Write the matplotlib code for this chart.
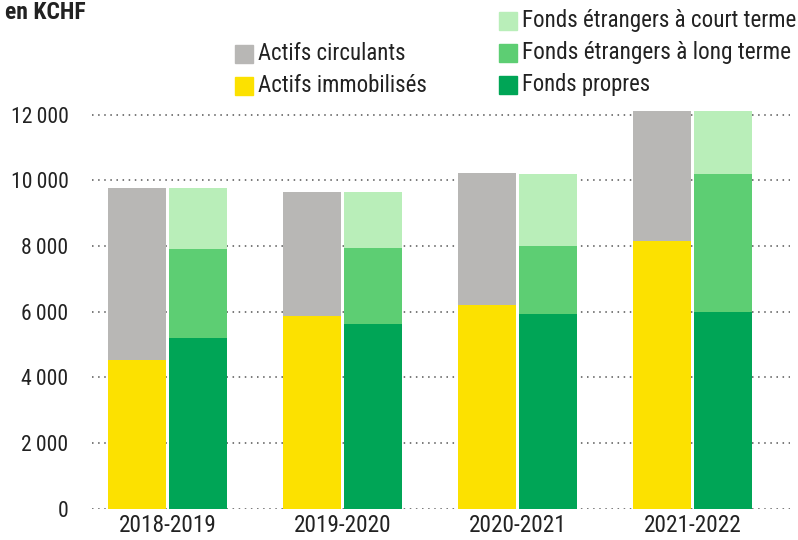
import matplotlib
matplotlib.use("Agg")
import matplotlib.pyplot as plt
from matplotlib.patches import Rectangle
from matplotlib.ticker import FuncFormatter
import numpy as np

FONT = ['Roboto Condensed', 'Liberation Sans Narrow', 'Roboto', 'DejaVu Sans']
plt.rcParams['font.family'] = FONT

years = ["2018-2019", "2019-2020", "2020-2021", "2021-2022"]
actifs_immobilises = [4530, 5870, 6205, 8150]
actifs_circulants = [5240, 3780, 4020, 3960]
fonds_propres = [5200, 5625, 5930, 5990]
fonds_etr_long = [2710, 2315, 2070, 4200]
fonds_etr_court = [1860, 1710, 2190, 1920]
yticks = [0, 2000, 4000, 6000, 8000, 10000, 12000]

c_gray = "#b8b7b5"
c_yellow = "#fce100"
c_light = "#b9eeb9"
c_mid = "#5dce73"
c_dark = "#00a556"
txt = "#222222"

W, H = 798, 540
fig = plt.figure(figsize=(W / 100, H / 100), dpi=100)
ax = fig.add_axes([92 / W, 1 - 508.7 / H, (790 - 92) / W, (508.7 - 104.9) / H])

x = np.arange(len(years))
bw = 0.331
off = 0.174
ax.bar(x - off, actifs_immobilises, bw, color=c_yellow, zorder=3)
ax.bar(x - off, actifs_circulants, bw, bottom=actifs_immobilises, color=c_gray, zorder=3)
ax.bar(x + off, fonds_propres, bw, color=c_dark, zorder=3)
b2 = np.array(fonds_propres) + np.array(fonds_etr_long)
ax.bar(x + off, fonds_etr_long, bw, bottom=fonds_propres, color=c_mid, zorder=3)
ax.bar(x + off, fonds_etr_court, bw, bottom=b2, color=c_light, zorder=3)

ax.set_xlim(-0.431, 3.557)
ax.set_ylim(0, 12300)
ax.set_yticks(yticks)
ax.yaxis.set_major_formatter(FuncFormatter(lambda v, p: f"{int(v):,}".replace(",", "\u2009")))
ax.set_xticks(x)
ax.set_xticklabels(years)
ax.grid(axis='y', linestyle=(0, (1, 3)), color="#555555", linewidth=1.1, zorder=1)
for s in ax.spines.values():
    s.set_visible(False)
ax.tick_params(axis='both', length=0, labelsize=15, colors=txt)
ax.tick_params(axis='y', pad=17)
ax.tick_params(axis='x', pad=4)

renderer = fig.canvas.get_renderer()

def fit(t, target):
    w = t.get_window_extent(renderer).width
    t.set_fontsize(t.get_fontsize() * target / w)

fig.text(5 / W, 1 - 19 / H, "en KCHF", fontsize=17, fontweight='bold', color=txt, va='baseline')

def leg(xp, yp, color, label, target):
    fig.patches.append(Rectangle((xp / W, 1 - (yp + 18) / H), 18 / W, 18 / H,
                                 transform=fig.transFigure, color=color))
    t = fig.text((xp + 23) / W, 1 - (yp + 9) / H, label, fontsize=17, color=txt, va='center')
    fit(t, target)

leg(235, 45, c_gray, "Actifs circulants", 147)
leg(235, 77, c_yellow, "Actifs immobilisés", 169)
leg(499, 12, c_light, "Fonds étrangers à court terme", 273)
leg(499, 44, c_mid, "Fonds étrangers à long terme", 268)
leg(499, 76, c_dark, "Fonds propres", 128)

fig.canvas.draw()
lab = ax.get_xticklabels()[0]
s = 98 / lab.get_window_extent(renderer).width
ax.tick_params(axis='x', labelsize=15 * s)
ylab = ax.get_yticklabels()[-1]
s2 = 58 / ylab.get_window_extent(renderer).width
ax.tick_params(axis='y', labelsize=15 * s2)

fig.savefig("out.png", dpi=100)
